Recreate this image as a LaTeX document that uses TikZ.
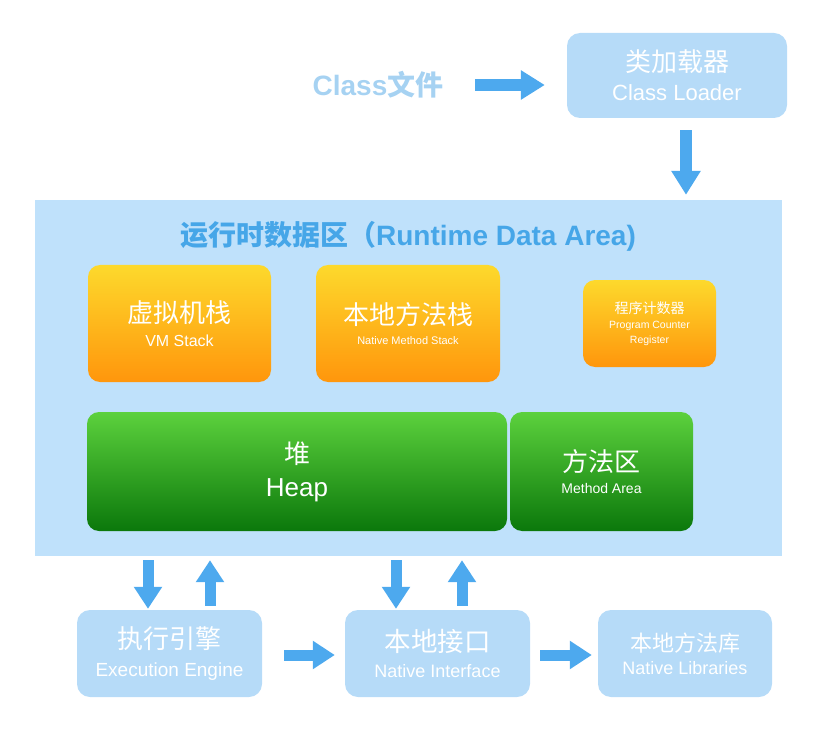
\documentclass[tikz,border=0pt]{standalone}
\usepackage{fontspec}
\setmainfont{Liberation Sans}
\newfontfamily\cjk{Noto Sans CJK SC}
\usetikzlibrary{arrows.meta}

\definecolor{boxblue}{HTML}{B6DBF8}
\definecolor{areablue}{HTML}{BFE1FB}
\definecolor{arrowblue}{HTML}{4DA9EE}
\definecolor{titleblue}{HTML}{46A6E8}
\definecolor{fileblue}{HTML}{A6D2F2}
\definecolor{stacktop}{HTML}{FDD92C}
\definecolor{stackbot}{HTML}{FF960C}
\definecolor{heaptop}{HTML}{5CD13D}
\definecolor{heapbot}{HTML}{0B780B}

\newcommand{\fs}[1]{\fontsize{#1}{#1}\selectfont}

\begin{document}
\begin{tikzpicture}[
        x=1pt, y=-1pt,
        lightbox/.style={fill=boxblue, rounded corners=13pt, text=white, align=center},
        stackbox/.style={top color=stacktop, bottom color=stackbot, rounded corners=12pt, text=white, align=center},
        heapbox/.style={top color=heaptop, bottom color=heapbot, rounded corners=12pt, text=white, align=center},
        fatarrow/.style={draw=arrowblue, line width=12pt, -{Triangle[width=28pt,length=24pt]}},
        thinarrow/.style={draw=arrowblue, line width=11pt, -{Triangle[width=27pt,length=22pt]}}
    ]

    \useasboundingbox (0,0) rectangle (824,735);

    % --- Caricamento delle classi ---
    \node[text=fileblue, font=\bfseries\fs{28}] (cfile) at (378,85) {Class{\cjk 文件}};
    \node[lightbox, minimum width=220pt, minimum height=85pt] (loader) at (677,75.5)
        {{\cjk\fs{26}类加载器}\\[10pt]{\fs{22}Class Loader}};

    % --- Area dati di runtime ---
    \node[fill=areablue, minimum width=747pt, minimum height=356pt, inner sep=0pt] (rda) at (408.5,378) {};
    \node[text=titleblue, font=\bfseries\fs{28}] (title) at (408,236) {{\cjk 运行时数据区（}Runtime Data Area)};

    % Stack e registri
    \node[stackbox, minimum width=183pt, minimum height=117pt] (vmstack) at (179.5,323.5)
        {{\cjk\fs{26}虚拟机栈}\\[10pt]{\fs{16}VM Stack}};
    \node[stackbox, minimum width=184pt, minimum height=117pt] (nstack) at (408,323.5)
        {{\cjk\fs{26}本地方法栈}\\[8pt]{\fs{11}Native Method Stack}};
    \node[stackbox, minimum width=133pt, minimum height=87pt] (pc) at (649.5,323.5)
        {{\cjk\fs{14}程序计数器}\\[3pt]{\fs{10.5}Program Counter}\\[3pt]{\fs{10.5}Register}};

    % Heap e area dei metodi
    \node[heapbox, minimum width=420pt, minimum height=119pt] (heap) at (297,471.5)
        {{\cjk\fs{26}堆}\\[12pt]{\fs{26}Heap}};
    \node[heapbox, minimum width=183pt, minimum height=119pt] (method) at (601.5,471.5)
        {{\cjk\fs{26}方法区}\\[9pt]{\fs{14}Method Area}};

    % --- Riga in basso ---
    \node[lightbox, minimum width=185pt, minimum height=87pt] (engine) at (169.5,653.5)
        {{\cjk\fs{26}执行引擎}\\[11pt]{\fs{19}Execution Engine}};
    \node[lightbox, minimum width=185pt, minimum height=87pt] (interface) at (437.5,653.5)
        {{\cjk\fs{26.5}本地接口}\\[9pt]{\fs{18}Native Interface}};
    \node[lightbox, minimum width=174pt, minimum height=87pt] (libs) at (685,653.5)
        {{\cjk\fs{22}本地方法库}\\[7pt]{\fs{18}Native Libraries}};

    % --- Frecce ---
    \draw[fatarrow, shorten <=28pt, shorten >=22pt] (cfile.east) -- (cfile.east -| loader.west);
    \draw[fatarrow, shorten <=12pt, shorten >=5pt] ([xshift=9pt]loader.south) -- ([xshift=9pt]loader.south |- rda.north);

    \draw[thinarrow, shorten <=4pt, shorten >=1pt] ([xshift=-21.5pt]engine.north |- rda.south) -- ([xshift=-21.5pt]engine.north);
    \draw[thinarrow, shorten <=4pt, shorten >=4pt] ([xshift=40.5pt]engine.north) -- ([xshift=40.5pt]engine.north |- rda.south);
    \draw[thinarrow, shorten <=4pt, shorten >=1pt] ([xshift=-41.5pt]interface.north |- rda.south) -- ([xshift=-41.5pt]interface.north);
    \draw[thinarrow, shorten <=4pt, shorten >=4pt] ([xshift=24.5pt]interface.north) -- ([xshift=24.5pt]interface.north |- rda.south);

    \draw[thinarrow, shorten <=22pt, shorten >=10pt] ([yshift=-1.5pt]engine.east) -- ([yshift=-1.5pt]engine.east -| interface.west);
    \draw[thinarrow, shorten <=10pt, shorten >=6pt] ([yshift=-1.5pt]interface.east) -- ([yshift=-1.5pt]interface.east -| libs.west);

\end{tikzpicture}
\end{document}
